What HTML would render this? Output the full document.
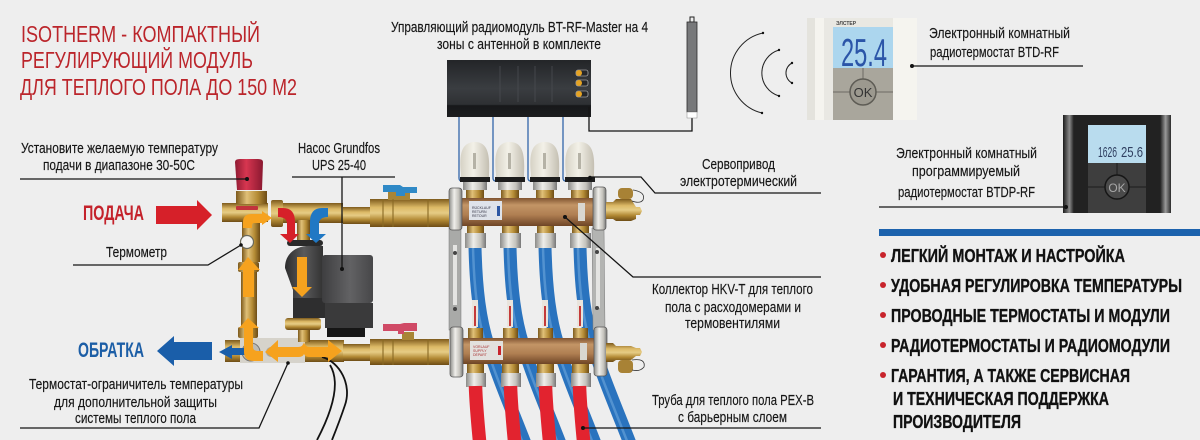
<!DOCTYPE html>
<html lang="ru"><head><meta charset="utf-8"><title>Isotherm</title>
<style>
html,body{margin:0;padding:0;background:#eeeeee}
svg{display:block}
text{font-family:"Liberation Sans","DejaVu Sans",sans-serif}
.l{font-size:15px;fill:#161616;stroke:#161616;stroke-width:.15}
.b{font-size:18px;font-weight:700;fill:#111;stroke:#111;stroke-width:.35}
.t{font-size:23px;fill:#bb252b}
.ln{stroke:#151515;stroke-width:1.3;fill:none}
</style></head><body>
<svg width="1200" height="440" viewBox="0 0 1200 440" xmlns="http://www.w3.org/2000/svg">
<defs>
<linearGradient id="br" x1="0" y1="0" x2="0" y2="1"><stop offset="0" stop-color="#7d5a1c"/><stop offset=".3" stop-color="#dcb966"/><stop offset=".5" stop-color="#e6cc85"/><stop offset=".75" stop-color="#b18833"/><stop offset="1" stop-color="#6d4c16"/></linearGradient>
<linearGradient id="brv" x1="0" y1="0" x2="1" y2="0"><stop offset="0" stop-color="#7d5a1c"/><stop offset=".35" stop-color="#e0c078"/><stop offset=".7" stop-color="#b48b35"/><stop offset="1" stop-color="#6d4c16"/></linearGradient>
<linearGradient id="mf" x1="0" y1="0" x2="0" y2="1"><stop offset="0" stop-color="#7f5330"/><stop offset=".25" stop-color="#c39566"/><stop offset=".6" stop-color="#b07f52"/><stop offset="1" stop-color="#6e4526"/></linearGradient>
<linearGradient id="si" x1="0" y1="0" x2="1" y2="0"><stop offset="0" stop-color="#8b8b88"/><stop offset=".4" stop-color="#efeeea"/><stop offset=".75" stop-color="#c4c2bc"/><stop offset="1" stop-color="#777"/></linearGradient>
<linearGradient id="cap" x1="0" y1="0" x2="1" y2="0"><stop offset="0" stop-color="#d6d2c5"/><stop offset=".45" stop-color="#f3f1e8"/><stop offset="1" stop-color="#c4bfb2"/></linearGradient>
<linearGradient id="rc" x1="0" y1="0" x2="1" y2="0"><stop offset="0" stop-color="#8e1a32"/><stop offset=".4" stop-color="#d73650"/><stop offset="1" stop-color="#8a1830"/></linearGradient>
<linearGradient id="pm" x1="0" y1="0" x2="1" y2="0"><stop offset="0" stop-color="#3e3e40"/><stop offset=".55" stop-color="#626264"/><stop offset="1" stop-color="#474749"/></linearGradient>
<linearGradient id="vo" x1="0" y1="0" x2="1" y2="0"><stop offset="0" stop-color="#2c2c2d"/><stop offset=".5" stop-color="#5a5a5b"/><stop offset="1" stop-color="#333"/></linearGradient>
<linearGradient id="th" x1="0" y1="0" x2="1" y2="0"><stop offset="0" stop-color="#1a1a1a"/><stop offset=".06" stop-color="#8a8a8a"/><stop offset=".1" stop-color="#222"/><stop offset=".9" stop-color="#222"/><stop offset=".95" stop-color="#999"/><stop offset="1" stop-color="#2a2a2a"/></linearGradient>
<linearGradient id="ctl" x1="0" y1="0" x2="0" y2="1"><stop offset="0" stop-color="#232528"/><stop offset=".5" stop-color="#3a3d41"/><stop offset=".78" stop-color="#2e3033"/><stop offset=".8" stop-color="#17181a"/><stop offset="1" stop-color="#1c1d1f"/></linearGradient>
<g id="act">
<path d="M461 174 C459 155 461 142 475 142 C488 142 490 155 489 174 L489 179 L461 179Z" fill="url(#cap)"/>
<rect x="473" y="153" width="3" height="16" fill="#b5b2a6"/>
<rect x="460" y="177" width="30" height="5" fill="#1d1d1d"/>
<rect x="463" y="182" width="24" height="8" fill="url(#si)"/>
<rect x="466" y="190" width="18" height="9" fill="url(#brv)"/>
<rect x="467" y="226" width="17" height="8" fill="url(#brv)"/>
<rect x="465" y="233" width="21" height="15" fill="url(#si)"/>
</g>
<g id="flo">
<rect x="472" y="300" width="6" height="27" fill="#e9e4dc"/>
<rect x="474" y="306" width="2" height="20" fill="#c43a3a"/>
<rect x="468" y="328" width="15" height="11" fill="url(#brv)"/>
<rect x="467" y="364" width="17" height="9" fill="url(#brv)"/>
<rect x="466" y="373" width="20" height="14" fill="url(#si)"/>
</g>
<g id="bp">
<path d="M475 247 C476 290 480 320 488 345 C497 375 510 405 526 446" fill="none" stroke="#2a73be" stroke-width="13"/>
<path d="M473 247 C474 290 478 320 486 345 C495 375 508 405 524 446" fill="none" stroke="#6ea6dc" stroke-width="2.500" opacity=".6"/>
</g>
<path id="rp" d="M475.500 386 C476 405 478 425 480 446" fill="none" stroke="#e2232f" stroke-width="13.500"/>
</defs>

<rect width="1200" height="440" fill="#eeeeee"/>

<!-- title -->
<text class="t" x="21" y="42" textLength="239" lengthAdjust="spacingAndGlyphs">ISOTHERM - КОМПАКТНЫЙ</text>
<text class="t" x="21" y="68" textLength="232" lengthAdjust="spacingAndGlyphs">РЕГУЛИРУЮЩИЙ МОДУЛЬ</text>
<text class="t" x="20" y="95" textLength="277" lengthAdjust="spacingAndGlyphs">ДЛЯ ТЕПЛОГО ПОЛА ДО 150 М2</text>

<!-- top controller -->
<text class="l" x="391" y="32" textLength="257" lengthAdjust="spacingAndGlyphs">Управляющий радиомодуль BT-RF-Master на 4</text>
<text class="l" x="437" y="49" textLength="164" lengthAdjust="spacingAndGlyphs">зоны с антенной в комплекте</text>
<path d="M459 117V178q0 3 3 3M493 117V178q0 3 3 3M528 117V178q0 3 3 3M563 117V178q0 3 3 3" fill="none" stroke="#3f6fae" stroke-width="1.400"/>
<rect x="447" y="60" width="144" height="57" fill="url(#ctl)"/>
<path d="M500 66V102M518 66V102M535 66V102M552 66V102" stroke="#4a4d52" stroke-width=".8"/>
<g fill="#ddd"><rect x="576" y="70" width="12" height="6" rx="2" fill="#26282b" stroke="#ccc" stroke-width=".6"/><rect x="576" y="80" width="12" height="6" rx="2" fill="#26282b" stroke="#ccc" stroke-width=".6"/><rect x="576" y="91" width="12" height="6" rx="2" fill="#26282b" stroke="#ccc" stroke-width=".6"/></g>
<g fill="#e6a424"><circle cx="579" cy="73" r="3"/><circle cx="579" cy="83" r="3"/><circle cx="579" cy="94" r="3"/></g>
<path d="M589 107V131H692V118" class="ln"/>
<rect x="690" y="17" width="4" height="5" fill="none" stroke="#222"/>
<rect x="687" y="22" width="10" height="90" fill="#77787a" stroke="#2a2a2a" stroke-width=".8"/>
<rect x="687" y="112" width="10" height="6" fill="#fff" stroke="#888" stroke-width=".5"/>
<!-- radio waves -->
<g fill="none" stroke="#222" stroke-width="1">
<path d="M763 33 A41 41 0 0 0 762 113"/>
<path d="M779 50 A24 24 0 0 0 779 96"/>
<path d="M792 63 A11.300 11.300 0 0 0 792 83"/>
</g>
<g fill="#111"><circle cx="763" cy="33" r="1.200"/><circle cx="762" cy="113" r="1.200"/><circle cx="779" cy="50" r="1.200"/><circle cx="779" cy="96" r="1.200"/><circle cx="792" cy="63" r="1.200"/><circle cx="792" cy="83" r="1.200"/></g>

<!-- thermostat 1 -->
<rect x="807" y="18" width="110" height="102" fill="#f5f4ef"/>
<rect x="807" y="18" width="8" height="102" fill="#e4e3dd"/>
<rect x="824" y="18" width="9" height="102" fill="#e9e8e3"/>
<rect x="833" y="18" width="60" height="9" fill="#e9e8e2"/>
<text x="836" y="25" font-size="5" font-weight="700" fill="#444">ЭЛСТЕР</text>
<rect x="833" y="27" width="60" height="41" fill="#acd6ee"/>
<text x="841" y="66" font-size="39" fill="#2b55a8" textLength="46" lengthAdjust="spacingAndGlyphs">25.4</text>
<rect x="833" y="68" width="60" height="52" fill="#a9a69c"/>
<path d="M833 92H893M863 68V92" stroke="#6d6b64" stroke-width="1"/>
<circle cx="863" cy="92" r="13" fill="#9c998f" stroke="#5e5c55" stroke-width="1.500"/>
<text x="863" y="97" font-size="13" text-anchor="middle" fill="#333">OK</text>
<circle cx="912" cy="66" r="2" fill="#111"/>
<path d="M912 66H1083" class="ln"/>
<text class="l" x="929" y="38" textLength="141" lengthAdjust="spacingAndGlyphs">Электронный комнатный</text>
<text class="l" x="930" y="57" textLength="129" lengthAdjust="spacingAndGlyphs">радиотермостат BTD-RF</text>

<!-- thermostat 2 -->
<rect x="1063" y="115" width="108" height="98" fill="url(#th)"/>
<rect x="1088" y="125" width="58" height="38" fill="#b9dcee"/>
<text x="1098" y="157" font-size="15" fill="#2f3f60" textLength="19" lengthAdjust="spacingAndGlyphs">1626</text>
<text x="1121" y="157" font-size="15" fill="#2f3f60" textLength="22" lengthAdjust="spacingAndGlyphs">25.6</text>
<rect x="1088" y="163" width="58" height="50" fill="#3e3e3e"/>
<path d="M1088 187H1146M1117 163V187" stroke="#1c1c1c"/>
<circle cx="1117" cy="187" r="12" fill="#4a4a4a" stroke="#161616" stroke-width="1.500"/>
<text x="1117" y="192" font-size="12" text-anchor="middle" fill="#a8a8a8">OK</text>
<circle cx="1066" cy="207" r="2" fill="#111"/>
<path d="M879 207H1066" class="ln"/>
<text class="l" x="896" y="158" textLength="141" lengthAdjust="spacingAndGlyphs">Электронный комнатный</text>
<text class="l" x="912" y="176" textLength="108" lengthAdjust="spacingAndGlyphs">программируемый</text>
<text class="l" x="898" y="197" textLength="137" lengthAdjust="spacingAndGlyphs">радиотермостат BTDP-RF</text>

<!-- blue bar + bullets -->
<rect x="879" y="229" width="321" height="7" fill="#1c62ad"/>
<g fill="#c8242c"><circle cx="883" cy="255" r="3"/><circle cx="883" cy="285" r="3"/><circle cx="883" cy="315" r="3"/><circle cx="883" cy="345" r="3"/><circle cx="883" cy="375" r="3"/></g>
<text class="b" x="891" y="262" textLength="234" lengthAdjust="spacingAndGlyphs">ЛЕГКИЙ МОНТАЖ И НАСТРОЙКА</text>
<text class="b" x="891" y="292" textLength="291" lengthAdjust="spacingAndGlyphs">УДОБНАЯ РЕГУЛИРОВКА ТЕМПЕРАТУРЫ</text>
<text class="b" x="891" y="322" textLength="279" lengthAdjust="spacingAndGlyphs">ПРОВОДНЫЕ ТЕРМОСТАТЫ И МОДУЛИ</text>
<text class="b" x="891" y="352" textLength="279" lengthAdjust="spacingAndGlyphs">РАДИОТЕРМОСТАТЫ И РАДИОМОДУЛИ</text>
<text class="b" x="891" y="382" textLength="239" lengthAdjust="spacingAndGlyphs">ГАРАНТИЯ, А ТАКЖЕ СЕРВИСНАЯ</text>
<text class="b" x="893" y="405" textLength="216" lengthAdjust="spacingAndGlyphs">И ТЕХНИЧЕСКАЯ ПОДДЕРЖКА</text>
<text class="b" x="893" y="428" textLength="128" lengthAdjust="spacingAndGlyphs">ПРОИЗВОДИТЕЛЯ</text>

<!-- floor pipes: blue -->
<use href="#bp"/><use href="#bp" x="35"/><use href="#bp" x="70"/><use href="#bp" x="105"/>

<!-- brackets -->
<rect x="449" y="228" width="12" height="102" fill="#a9aaa8" stroke="#777" stroke-width=".5"/>
<rect x="453" y="245" width="4" height="60" fill="#e4e4e2"/>
<path d="M592 228H604L605 330H593Z" fill="#b3b4b2" stroke="#777" stroke-width=".5"/>
<rect x="596" y="248" width="4" height="60" fill="#e4e4e2"/>

<!-- hardware on collectors -->
<use href="#act"/><use href="#act" x="35"/><use href="#act" x="70"/><use href="#act" x="105"/>
<use href="#flo"/><use href="#flo" x="35"/><use href="#flo" x="70"/><use href="#flo" x="105"/>

<!-- red pipes -->
<use href="#rp"/><use href="#rp" x="35"/><use href="#rp" x="70"/><use href="#rp" x="104"/>

<!-- collectors -->
<rect x="461" y="198" width="133" height="28" fill="url(#mf)"/>
<rect x="462" y="338" width="133" height="26" fill="url(#mf)"/>
<rect x="469" y="201" width="33" height="19" fill="#dfe3ea"/>
<rect x="497" y="206" width="3" height="10" fill="#2d57a3"/>
<text x="472" y="209" font-size="3.500" fill="#334">RÜCKLAUF</text><text x="472" y="213" font-size="3.500" fill="#334">RETURN</text><text x="472" y="217" font-size="3.500" fill="#334">RETOUR</text>
<rect x="470" y="341" width="33" height="19" fill="#e3e1de"/>
<rect x="498" y="346" width="3" height="9" fill="#c8242c"/>
<text x="473" y="348" font-size="3.500" fill="#a33">VORLAUF</text><text x="473" y="352" font-size="3.500" fill="#a33">SUPPLY</text><text x="473" y="356" font-size="3.500" fill="#a33">DÉPART</text>
<rect x="578" y="203" width="7" height="18" fill="#d9d7d0"/>
<rect x="580" y="343" width="7" height="17" fill="#d9d7d0"/>
<!-- clamps -->
<rect x="449" y="188" width="13" height="42" rx="3" fill="url(#si)" stroke="#555" stroke-width=".7"/>
<rect x="593" y="187" width="13" height="43" rx="3" fill="url(#si)" stroke="#555" stroke-width=".7"/>
<rect x="450" y="327" width="13" height="50" rx="3" fill="url(#si)" stroke="#555" stroke-width=".7"/>
<rect x="594" y="327" width="13" height="49" rx="3" fill="url(#si)" stroke="#555" stroke-width=".7"/>
<circle cx="455" cy="253" r="2" fill="#444"/><circle cx="455" cy="309" r="2" fill="#444"/>
<circle cx="597" cy="252" r="2" fill="#444"/><circle cx="597" cy="308" r="2" fill="#444"/>
<!-- right end fittings -->
<path d="M606 202H613L616 199H631L636 207H640L642 211L640 215H636V219L631 221H616L613 219H606Z" fill="url(#br)"/>
<rect x="618" y="188" width="15" height="11" rx="4" fill="#a88235"/>
<path d="M633 190Q646 192 643 200Q640 204 632 201" fill="none" stroke="#333" stroke-width=".8"/>
<path d="M606 343H613L616 346H631L636 348H640L642 352L640 356H636L631 360H616L613 362H606Z" fill="url(#br)"/>
<rect x="618" y="360" width="15" height="13" rx="4" fill="#a88235"/>
<path d="M632 360Q646 358 644 367Q640 372 632 370" fill="none" stroke="#333" stroke-width=".8"/>

<!-- main pipes -->
<rect x="282" y="203" width="61" height="20" fill="url(#br)"/>
<rect x="343" y="207" width="28" height="17" fill="url(#br)"/>
<rect x="370" y="199" width="79" height="28" fill="url(#br)"/>
<rect x="388" y="192" width="22" height="8" fill="#a88535"/>
<path d="M383 185H400L403 187H417V193H405V196H396V192H383Z" fill="#2f89c6"/>
<rect x="225" y="340" width="119" height="22" fill="url(#br)"/>
<rect x="343" y="344" width="28" height="17" fill="url(#br)"/>
<rect x="370" y="339" width="79" height="26" fill="url(#br)"/>
<rect x="402" y="332" width="12" height="8" fill="#a88535"/>
<path d="M383 324H400L404 323H417V331H404V334H398V331H383Z" fill="#d04a66"/>
<!-- hex bands on fittings -->
<g fill="#8a6a24" opacity=".55"><rect x="382" y="199" width="2" height="28"/><rect x="392" y="199" width="2" height="28"/><rect x="427" y="199" width="2" height="28"/><rect x="382" y="339" width="2" height="26"/><rect x="392" y="339" width="2" height="26"/><rect x="427" y="339" width="2" height="26"/></g>

<!-- return-side vertical & mixer -->
<rect x="241" y="272" width="16" height="56" fill="url(#brv)"/>
<rect x="238" y="262" width="21" height="10" rx="2" fill="url(#brv)"/>
<rect x="238" y="327" width="20" height="11" rx="2" fill="url(#brv)"/>
<rect x="242" y="222" width="18" height="40" fill="url(#brv)"/>
<rect x="222" y="203" width="46" height="19" fill="url(#br)"/>
<rect x="271" y="200" width="12" height="27" rx="2" fill="url(#br)"/>
<path d="M236 191H267V204H236Z" fill="url(#brv)"/>
<rect x="236" y="206" width="22" height="4" fill="#c2343c" rx="1"/>
<path d="M235 162Q235 159 240 159H258Q263 159 263 162L262 190H237Z" fill="url(#rc)"/>
<circle cx="247" cy="242" r="6.500" fill="#f4f4f2" stroke="#6a6a5c" stroke-width="1.200"/>

<!-- top stem -->
<rect x="297" y="220" width="13" height="22" fill="url(#brv)"/>

<!-- thermostat limiter -->
<rect x="240" y="338" width="65" height="25" fill="#d6d3cb"/>
<circle cx="251" cy="352" r="9" fill="#bdbbb5" stroke="#777"/>
<circle cx="271" cy="352" r="5" fill="#a9a69e"/>

<!-- pump -->
<rect x="287" y="240" width="36" height="6" rx="3" fill="#2a2a2a"/>
<path d="M285 268C285 252 298 245 312 246H323V300H306L293 298V290Z" fill="url(#vo)"/>
<rect x="293" y="298" width="32" height="20" fill="#2e2e2f"/>
<rect x="322" y="255" width="51" height="48" rx="3" fill="url(#pm)"/>
<rect x="325" y="303" width="48" height="25" fill="#3a3a3b"/>
<rect x="327" y="328" width="38" height="9" fill="#161616"/>
<rect x="285" y="318" width="36" height="12" rx="3" fill="url(#br)"/>
<rect x="298" y="330" width="12" height="12" fill="url(#brv)"/>

<!-- cable -->
<path d="M322 357C340 362 352 385 345 405C340 420 336 430 332 440M330 365C338 378 338 400 317 440" fill="none" stroke="#121212" stroke-width="1.800"/>

<!-- blue & red direction arrows -->
<path d="M156 206H197V200L212 215L197 230V224H156Z" fill="#d62029"/>
<path d="M212 342H174V336L157 351L174 366V360H212Z" fill="#1a5ea9"/>
<path d="M245 348H232V345L219 352L232 359V355H245Z" fill="#1a5ea9"/>

<!-- flow arrows -->
<path d="M278 208H283Q295 208 295 222V234H299L290 243L280 234H287V224Q287 217 278 217Z" fill="#d62029"/>
<path d="M328 208H322Q310 208 310 222V234H306L316 243L326 234H319V224Q319 217 328 217Z" fill="#2078c4"/>
<g fill="#f6a21e">
<path d="M243 228V222Q243 214 252 214H262V211L272 218L262 225V223H254Q252 223 252 226V228Z"/>
<path d="M243 297V270H238L248 257L260 270H254V297Z"/>
<path d="M244 352V328H239L248 318L259 328H253V347Q253 351 258 351H263V361H254Q244 361 244 352Z"/>
<path d="M297 257H307V287H312L302 297L292 287H297Z"/>
<path d="M265 352L278 340V347H298Q303 347 304 342Q305 347 310 347H328V340L342 351L328 362V357H310Q305 357 304 354Q303 357 298 357H278V362Z"/>
</g>

<!-- left labels -->
<text class="l" x="21" y="153" textLength="197" lengthAdjust="spacingAndGlyphs">Установите желаемую температуру</text>
<text class="l" x="43" y="170" textLength="152" lengthAdjust="spacingAndGlyphs">подачи в диапазоне 30-50С</text>
<path d="M20 179H247" class="ln"/><circle cx="247" cy="179" r="2" fill="#111"/>
<text class="l" x="298" y="153" textLength="82" lengthAdjust="spacingAndGlyphs">Насос Grundfos</text>
<text class="l" x="312" y="170" textLength="54" lengthAdjust="spacingAndGlyphs">UPS 25-40</text>
<path d="M292 177H395M342 177V269" class="ln"/><circle cx="342" cy="269" r="2" fill="#111"/>
<text x="83" y="220" font-size="21" font-weight="700" fill="#c4222b" textLength="61" lengthAdjust="spacingAndGlyphs">ПОДАЧА</text>
<text x="78" y="357" font-size="21" font-weight="700" fill="#1c5ea6" textLength="66" lengthAdjust="spacingAndGlyphs">ОБРАТКА</text>
<text class="l" x="106" y="257" textLength="61" lengthAdjust="spacingAndGlyphs">Термометр</text>
<path d="M73 265H208L241 245" class="ln"/><circle cx="241" cy="245" r="1.800" fill="#111"/>
<text class="l" x="29" y="389" textLength="214" lengthAdjust="spacingAndGlyphs">Термостат-ограничитель температуры</text>
<text class="l" x="54" y="407" textLength="163" lengthAdjust="spacingAndGlyphs">для дополнительной защиты</text>
<text class="l" x="75" y="423" textLength="121" lengthAdjust="spacingAndGlyphs">системы теплого пола</text>
<path d="M20 428H259L288 363" class="ln"/><circle cx="288" cy="363" r="1.800" fill="#111"/>

<!-- right labels -->
<circle cx="590" cy="178" r="2.200" fill="#111"/>
<path d="M590 177H641L655 193H821" class="ln"/>
<text class="l" x="702" y="169" textLength="73" lengthAdjust="spacingAndGlyphs">Сервопривод</text>
<text class="l" x="680" y="186" textLength="117" lengthAdjust="spacingAndGlyphs">электротермический</text>
<circle cx="565" cy="217" r="2" fill="#111"/>
<path d="M565 217L633 277H821" class="ln"/>
<text class="l" x="652" y="294" textLength="161" lengthAdjust="spacingAndGlyphs">Коллектор HKV-T для теплого</text>
<text class="l" x="665" y="312" textLength="136" lengthAdjust="spacingAndGlyphs">пола с расходомерами и</text>
<text class="l" x="685" y="328" textLength="95" lengthAdjust="spacingAndGlyphs">термовентилями</text>
<circle cx="583" cy="428" r="2" fill="#111"/>
<path d="M583 428H821" class="ln"/>
<text class="l" x="652" y="405" textLength="162" lengthAdjust="spacingAndGlyphs">Труба для теплого пола PEX-B</text>
<text class="l" x="678" y="422" textLength="109" lengthAdjust="spacingAndGlyphs">с барьерным слоем</text>
</svg>
</body></html>
